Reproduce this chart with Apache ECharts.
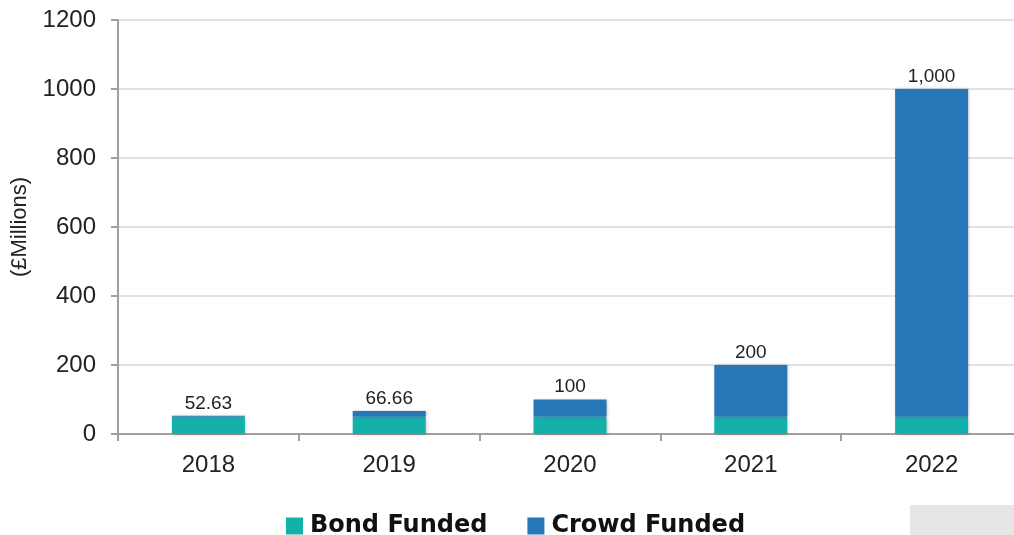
<!DOCTYPE html>
<html>
<head>
<meta charset="utf-8">
<script src="https://cdn.jsdelivr.net/npm/echarts@6/dist/echarts.min.js"></script>
<style>html,body{margin:0;padding:0;background:#fff}#c{width:1014px;height:535px}</style>
</head>
<body>
<div id="c"></div>
<script>
const categories = ['2018', '2019', '2020', '2021', '2022'];
const bondFunded = [50, 50, 50, 50, 50];
const crowdFunded = [2.63, 16.66, 50, 150, 950];
const totalLabels = ['52.63', '66.66', '100', '200', '1,000'];
const yTicks = [0, 200, 400, 600, 800, 1000, 1200];

const font = '"Liberation Sans", Arial, Helvetica, sans-serif';
const chart = echarts.init(document.getElementById('c'));
chart.setOption({
  animation: false,
  textStyle: { fontFamily: font },
  grid: { left: 118, right: -8, top: 20, bottom: 101, containLabel: false, outerBoundsMode: 'none' },
  legend: {
    left: 281, top: 509,
    itemWidth: 17, itemHeight: 17, itemGap: 40,
    icon: 'rect',
    textStyle: { fontSize: 24, fontWeight: 'bold', color: '#111', fontFamily: '"DejaVu Sans", sans-serif', padding: [0, 0, 0, 2] },
    data: ['Bond Funded', 'Crowd Funded']
  },
  xAxis: {
    type: 'category', data: categories,
    axisLine: { lineStyle: { color: '#a0a0a0', width: 2 } },
    axisTick: { show: true, length: 7, lineStyle: { color: '#a0a0a0', width: 2 } },
    axisLabel: { fontSize: 24, color: '#222', margin: 19, fontFamily: font }
  },
  yAxis: {
    type: 'value', min: 0, max: 1200, interval: 200,
    name: '(£Millions)', nameLocation: 'middle', nameGap: 87, nameRotate: 90,
    nameTextStyle: { fontSize: 22, color: '#222', fontFamily: font },
    axisLine: { show: true, lineStyle: { color: '#a0a0a0', width: 2 } },
    axisTick: { show: true, length: 7, lineStyle: { color: '#a0a0a0', width: 2 } },
    splitLine: { lineStyle: { color: '#e2e2e2', width: 2 } },
    axisLabel: { fontSize: 24, color: '#222', margin: 22, fontFamily: font,
      formatter: v => yTicks.includes(v) ? String(v) : '' }
  },
  series: [
    {
      name: 'Bond Funded', type: 'bar', stack: 'total', data: bondFunded,
      barWidth: 73,
      itemStyle: { color: '#14b1aa', shadowColor: 'rgba(0,0,0,0.25)', shadowBlur: 3, shadowOffsetX: 1, shadowOffsetY: 1 }
    },
    {
      name: 'Crowd Funded', type: 'bar', stack: 'total', data: crowdFunded,
      barWidth: 73,
      itemStyle: { color: '#2777b8', shadowColor: 'rgba(0,0,0,0.25)', shadowBlur: 3, shadowOffsetX: 1, shadowOffsetY: 0 },
      label: {
        show: true, position: 'top', distance: 3,
        fontSize: 19, color: '#222', fontFamily: font,
        formatter: p => totalLabels[p.dataIndex]
      }
    }
  ],
  graphic: [{
    type: 'rect', right: 0, bottom: 0,
    shape: { width: 104, height: 30 },
    style: { fill: '#e6e6e6' }
  }]
});
</script>
</body>
</html>
